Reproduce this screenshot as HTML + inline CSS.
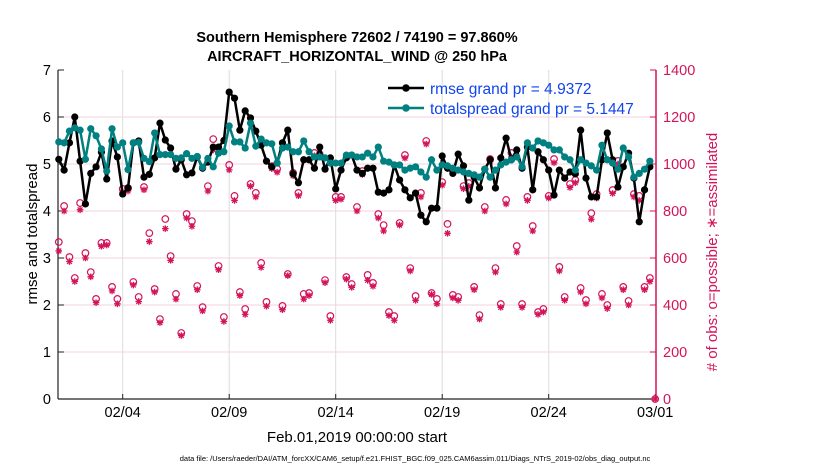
<!DOCTYPE html>
<html><head><meta charset="utf-8"><style>
body{margin:0;background:#fff;}
svg{display:block;font-family:"Liberation Sans",sans-serif;}
</style></head><body>
<svg id="chart" width="830" height="470">
<text x="357" y="42" text-anchor="middle" font-size="14.5" font-weight="bold">Southern Hemisphere 72602 / 74190 = 97.860%</text>
<text x="357" y="61" text-anchor="middle" font-size="14.5" font-weight="bold">AIRCRAFT_HORIZONTAL_WIND @ 250 hPa</text>
<g id="grid"></g>
<g id="axes"></g>
<g id="counts"></g>
<g id="lines"></g>
<text transform="translate(37,234) rotate(-90)" text-anchor="middle" font-size="15">rmse and totalspread</text>
<text transform="translate(717,252) rotate(-90)" text-anchor="middle" font-size="15" fill="#d4145a"># of obs: o=possible; ∗=assimilated</text>
<text x="357" y="442" text-anchor="middle" font-size="15">Feb.01,2019 00:00:00 start</text>
<text x="415" y="461" text-anchor="middle" font-size="7.5">data file: /Users/raeder/DAI/ATM_forcXX/CAM6_setup/f.e21.FHIST_BGC.f09_025.CAM6assim.011/Diags_NTrS_2019-02/obs_diag_output.nc</text>
<g>
<line x1="388" y1="88" x2="424" y2="88" stroke="#000" stroke-width="2.5"/>
<circle cx="406" cy="88" r="3.8" fill="#000"/>
<text x="430" y="94" font-size="15.5" fill="#1144ee">rmse grand pr = 4.9372</text>
<line x1="388" y1="108" x2="424" y2="108" stroke="#008080" stroke-width="2.5"/>
<circle cx="406" cy="108" r="3.8" fill="#008080"/>
<text x="430" y="114" font-size="15.5" fill="#1144ee">totalspread grand pr = 5.1447</text>
</g>
</svg>
<script>
const xTickLabels = ["02/04","02/09","02/14","02/19","02/24","03/01"];
const xTickDays = [3,8,13,18,23,28];
const yTicksLeft = [0,1,2,3,4,5,6,7];
const yTicksRight = [0,200,400,600,800,1000,1200,1400];
const rmse = [5.1,4.87,5.45,6.0,5.06,4.15,4.8,4.94,5.25,4.68,5.49,5.15,4.36,4.49,5.45,5.49,4.72,4.78,5.13,5.87,5.51,5.34,4.89,5.09,4.77,4.81,5.15,4.91,5.04,
5.36,5.36,5.5,6.53,6.4,5.72,6.13,5.98,5.7,5.4,5.06,4.94,5.02,5.45,5.72,4.79,4.6,5.09,5.09,4.91,5.36,4.89,5.13,4.47,4.87,5.13,5.19,4.87,
4.8,4.91,4.91,4.4,4.38,4.45,4.98,4.66,4.45,4.28,4.38,3.91,3.77,4.06,4.06,5.17,4.91,4.8,5.21,4.96,4.23,4.72,4.49,4.89,5.09,4.49,5.13,5.55,
5.09,5.3,4.91,5.36,4.45,5.26,5.09,4.87,4.34,4.87,4.7,4.83,4.79,5.72,4.7,4.3,4.3,5.09,5.66,5.09,4.51,4.94,5.23,4.7,3.77,4.45,4.94];
const spread = [5.47,5.45,5.7,5.77,5.72,5.1,5.75,5.6,5.32,4.85,5.75,5.36,5.45,4.88,5.45,5.46,5.12,5.05,5.66,5.2,5.2,5.2,5.12,5.13,5.22,5.12,5.16,4.93,5.12,
4.94,5.23,5.26,5.81,5.47,5.47,5.34,5.87,5.38,5.53,5.45,5.43,5.02,5.34,5.36,5.26,5.26,5.49,5.26,5.15,5.15,5.13,5.02,5.02,5.02,5.19,5.19,5.15,
5.15,5.23,5.15,5.36,5.06,5.04,4.98,4.98,4.87,4.91,4.94,4.83,4.72,5.09,4.87,4.98,4.96,4.91,4.87,4.83,4.8,4.77,4.72,4.89,4.72,4.87,4.98,5.04,
5.09,5.15,4.94,5.45,5.34,5.49,5.45,5.4,5.3,5.3,5.15,5.09,4.87,5.09,5.02,4.96,4.87,5.4,5.09,5.02,4.89,5.34,5.15,4.72,4.8,4.89,5.06];
const possible = [668,821,604,515,834,621,540,426,664,664,477,426,894,898,498,434,902,706,468,340,766,608,447,281,787,757,481,391,906,1106,
566,349,996,864,455,383,915,877,579,413,991,979,396,532,962,877,447,451,1047,1042,506,353,860,860,519,489,817,970,528,494,
787,740,370,353,749,1038,557,438,877,1098,451,426,923,745,443,434,906,919,477,357,817,1021,557,404,847,1047,651,404,860,736,
370,383,864,1021,562,434,915,932,472,421,791,872,447,400,889,1013,477,417,872,864,477,515,0];
const assimilated = [630,800,585,500,805,600,520,410,650,655,460,405,880,885,485,415,890,670,455,325,725,590,425,270,770,735,465,375,885,1060,
550,330,975,845,440,360,905,860,560,395,980,965,380,525,950,865,425,440,1035,1030,495,335,845,850,510,475,800,955,505,480,
770,715,355,335,740,1025,545,420,860,1085,445,405,910,705,430,420,895,905,465,340,800,1010,540,390,830,1030,625,390,845,715,
360,370,855,1005,545,420,900,920,455,405,765,855,430,385,875,1000,465,400,860,845,465,500,0];

const NS="http://www.w3.org/2000/svg";
const X0=58.8, DAY=21.3, PL=58, PR=656, PT=70, PB=399;
const xAt = i => X0 + i*DAY/4;
const xDay = d => X0 + d*DAY;
const yL = v => PB - v*(PB-PT)/7;
const yR = v => PB - v*(PB-PT)/1400;
function mk(tag, attrs, parent){const e=document.createElementNS(NS,tag);for(const k in attrs)e.setAttribute(k,attrs[k]);parent.appendChild(e);return e;}
const grid=document.getElementById('grid'), axes=document.getElementById('axes');
xTickDays.forEach((d,i)=>{
  const x=xDay(d);
  if(i<xTickDays.length-1){const g=mk('line',{x1:x,y1:PT,x2:x,y2:PB,stroke:'#dcdcdc','stroke-width':1},grid);
  
  }
  mk('line',{x1:x,y1:PB,x2:x,y2:PB-5,stroke:'#222','stroke-width':1},axes);
  const t=mk('text',{x:x,y:417,'text-anchor':'middle','font-size':14.5},axes);t.textContent=xTickLabels[i];
  
  
});
yTicksRight.forEach(v=>{
  const y=yR(v);
  if(v>0&&v<1400){const g=mk('line',{x1:PL,y1:y,x2:PR,y2:y,stroke:'#f3d3df','stroke-width':1},grid);
  
  }
  mk('line',{x1:PR,y1:y,x2:PR-6,y2:y,stroke:'#d4145a','stroke-width':1},axes);
  const t=mk('text',{x:663,y:y+5,'font-size':14.5,fill:'#d4145a'},axes);t.textContent=v;
  
  
});
yTicksLeft.forEach(v=>{
  const y=yL(v);
  mk('line',{x1:PL,y1:y,x2:PL+6,y2:y,stroke:'#222','stroke-width':1},axes);
  const t=mk('text',{x:51,y:y+5,'text-anchor':'end','font-size':14.5},axes);t.textContent=v;
  
  
});
mk('line',{x1:PL,y1:PT,x2:PL,y2:PB,stroke:'#222','stroke-width':1.2},axes);
mk('line',{x1:PL,y1:PB,x2:PR,y2:PB,stroke:'#222','stroke-width':1.2},axes);
mk('line',{x1:PR,y1:PT,x2:PR,y2:PB,stroke:'#d4145a','stroke-width':1.5},axes);

const cg=document.getElementById('counts');
possible.forEach((v,i)=>{
  const c=mk('circle',{cx:xAt(i),cy:yR(v),r:3.3,fill:'none',stroke:'#d4145a','stroke-width':1.2},cg);
  
  
});
assimilated.forEach((v,i)=>{
  const x=xAt(i), y=yR(v), s=3.3, d=2.4;
  const p=mk('path',{d:`M${x-s},${y}H${x+s}M${x},${y-s}V${y+s}M${x-d},${y-d}L${x+d},${y+d}M${x-d},${y+d}L${x+d},${y-d}`,stroke:'#d4145a','stroke-width':1.3,fill:'none'},cg);
  
  
});
const lg=document.getElementById('lines');
function series(arr,color,name){
  const p=mk('polyline',{points:arr.map((v,i)=>xAt(i)+','+yL(v)).join(' '),fill:'none',stroke:color,'stroke-width':2.5,'stroke-linejoin':'round'},lg);
  
  
  arr.forEach((v,i)=>{
    const c=mk('circle',{cx:xAt(i),cy:yL(v),r:3.6,fill:color},lg);
    
    
  });
}
series(rmse,'#000','rmse');
series(spread,'#008080','totalspread');
</script>
</body></html>
